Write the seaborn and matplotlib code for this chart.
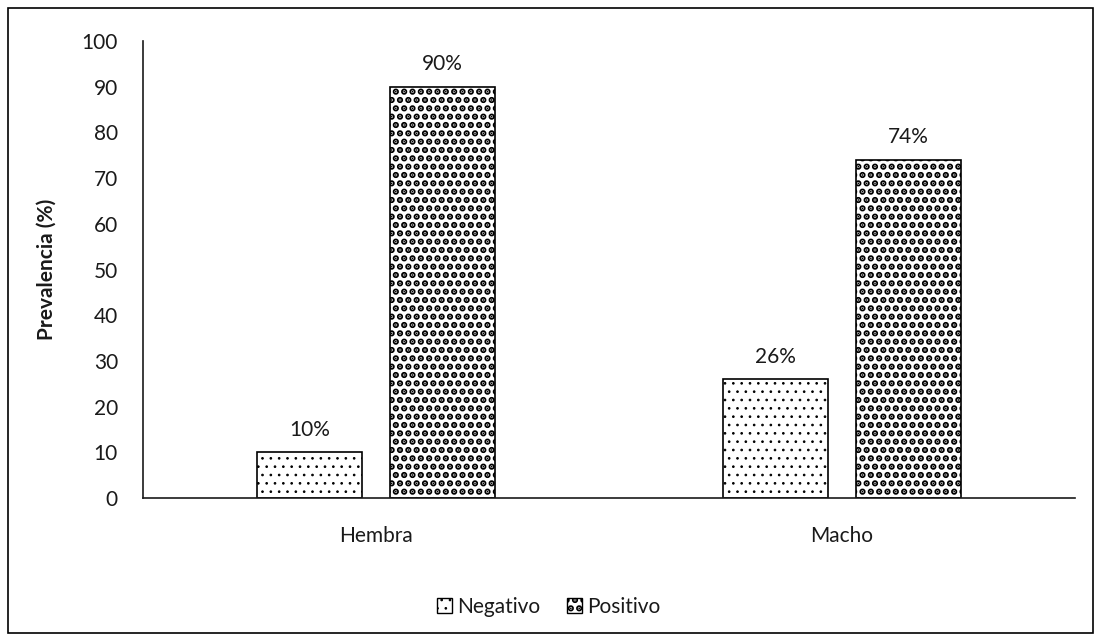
import matplotlib
matplotlib.use("Agg")
import matplotlib.pyplot as plt
from matplotlib.patches import Rectangle
import seaborn as sns
import pandas as pd

# Prevalence by sex
sexos = ["Hembra", "Macho"]
resultados = ["Negativo", "Positivo"]
negativo = [10, 26]
positivo = [90, 74]
y_ticks = list(range(0, 101, 10))

df = pd.DataFrame({
    "Sexo": sexos * 2,
    "Resultado": [resultados[0]] * len(sexos) + [resultados[1]] * len(sexos),
    "Prevalencia": negativo + positivo,
})

sns.set_theme(style="white")
plt.rcParams["font.family"] = ["Lato", "DejaVu Sans"]
plt.rcParams["hatch.color"] = "black"

fig = plt.figure(figsize=(11.01, 6.44), dpi=100)
ax = fig.add_axes([143 / 1101, 1 - 498 / 644, (1075 - 143) / 1101, (498 - 41) / 644])

sns.barplot(
    data=df, x="Sexo", y="Prevalencia", hue="Resultado",
    order=sexos, hue_order=resultados,
    palette=["white", "white"], edgecolor="black", linewidth=1.2,
    width=0.57, gap=0.21, ax=ax, errorbar=None, saturation=1,
)

# Fill patterns: sparse dots for negatives, dense checker for positives
hatches = ["..", ".."]
hatch_lw = [0.7, 3.2]


def style_patch(p, h, lw):
    p.set_hatch(h)
    p.set_edgecolor("black")
    p.set_facecolor("white")
    if hasattr(p, "set_hatch_linewidth"):
        p.set_hatch_linewidth(lw)


txt = "#1a1a1a"
fs = 15
for cont, h, lw in zip(ax.containers, hatches, hatch_lw):
    for bar in cont:
        style_patch(bar, h, lw)
    ax.bar_label(cont, fmt="%g%%", padding=9, fontsize=fs, color=txt)

ax.set_ylim(0, 100)
ax.set_yticks(y_ticks)
ax.set_xlim(-0.5, 1.5)
ax.tick_params(axis="both", labelsize=fs, colors=txt, length=0)
ax.tick_params(axis="x", pad=20)
ax.tick_params(axis="y", pad=18)
ax.set_xlabel("")
ax.set_ylabel("Prevalencia (%)", fontsize=fs, fontweight="bold", labelpad=18, color=txt)
for side in ["top", "right"]:
    ax.spines[side].set_visible(False)
for side in ["left", "bottom"]:
    ax.spines[side].set_color(txt)
    ax.spines[side].set_linewidth(1.2)

leg = ax.legend(
    loc="center", bbox_to_anchor=(549 / 1101, 1 - 607 / 644), bbox_transform=fig.transFigure,
    ncol=2, frameon=False, fontsize=fs, handlelength=0.7, handleheight=0.7,
    handletextpad=0.25, columnspacing=1.3,
)
for handle, h, lw in zip(leg.legend_handles, hatches, hatch_lw):
    style_patch(handle, h, lw)
    handle.set_linewidth(1.0)
for t in leg.get_texts():
    t.set_color(txt)

# Chart frame
fig.patches.append(Rectangle((8 / 1101, 1 - 633 / 644), (1093 - 8) / 1101, (633 - 8) / 644,
                             transform=fig.transFigure, fill=False, edgecolor="black",
                             linewidth=1.2, zorder=-1))

fig.savefig("out.png", dpi=100)
